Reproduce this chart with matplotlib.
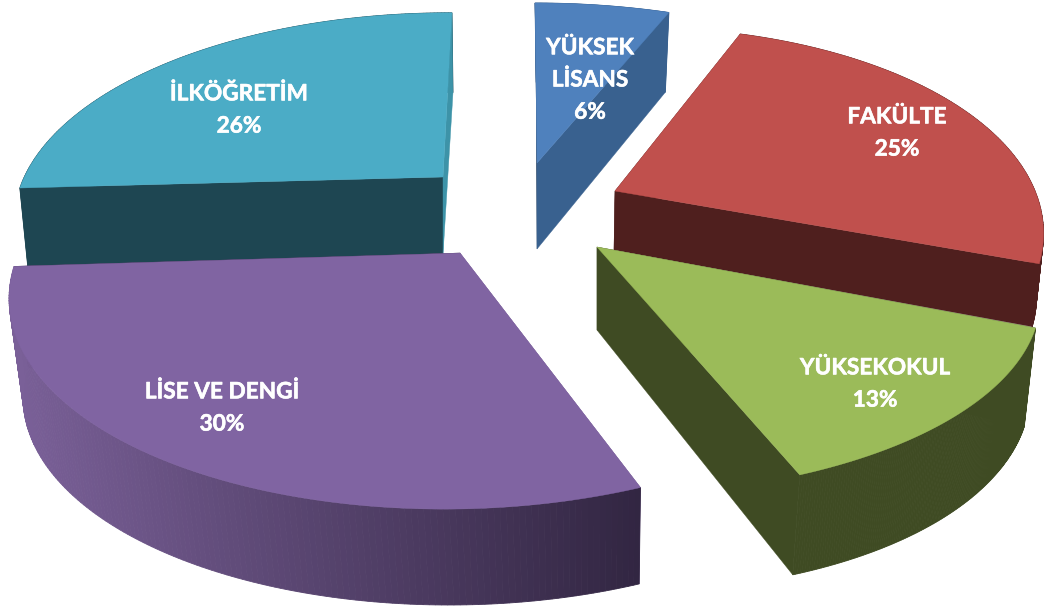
import numpy as np
import matplotlib
matplotlib.use("Agg")
import matplotlib.pyplot as plt
from matplotlib.patches import Polygon
import matplotlib.patheffects as pe

# --- data ---
labels = ["YÜKSEK\nLİSANS", "FAKÜLTE", "YÜKSEKOKUL", "LİSE VE DENGİ", "İLKÖĞRETİM"]
values = [6, 25, 13, 30, 26]

# --- style / layout (per-slice projection of the 3-D pie, in pixels) ---
# ax, ay, rx, ry, k, sx, sy
top_geom = [
    (537, 163, 431, 192, .20, -2.4, 0),
    (615, 191, 416, 203, .24, 0, -9),
    (597, 247, 431, 190, .234, 0, 4.4),
    (460, 253, 441, 210, .18, 13, 0),
    (443, 177, 418, 197, .20, 10.8, 1.5),
]
bot_geom = [
    (537, 249, 416, 200, .20, -1, 0),
    (614, 250, 410, 190, .24, 0, 0),
    (597, 330, 422, 203, .222, 0, 15),
    (460, 355, 428, 205, .18, 9, 0),
    (443, 255, 410, 195, .20, 12, 0),
]
top_colors = ["#4F81BD", "#C0504D", "#9BBB59", "#8064A2", "#4BACC6"]
side_colors = ["#39618F", "#4F1F1E", "#3F4B23", None, "#1E4652"]
start_face = ["#244061", "#4F1F1E", "#3F4B23", "#7A6098", "#1E4652"]
end_face = ["#39618F", "#4F1F1E", "#3F4B23", "#322642", "#3D93A8"]
end_face_last = [False, False, False, False, True]
label_pos = [(590, 80), (897, 133), (875, 384), (222, 408), (239, 110)]
draw_order = [0, 1, 4, 2, 3]

plt.rcParams["font.family"] = ["Lato", "DejaVu Sans"]
fig = plt.figure(figsize=(10.45, 6.12), dpi=100, facecolor="white")
ax = fig.add_axes([0, 0, 1, 1])
ax.set_xlim(0, 1045)
ax.set_ylim(612, 0)
ax.axis("off")


def proj(g, theta):
    a_x, a_y, rx, ry, k, sx, sy = g
    s, c = np.sin(theta), np.cos(theta)
    w = 1 + k * c
    return a_x + (rx * s + sx * c) / w, a_y + (-ry * c + sy * s) / w


cum = np.cumsum([0] + values) / sum(values) * 2 * np.pi
lise_left = np.array([122, 96, 152]) / 255
lise_right = np.array([50, 38, 66]) / 255

for i in draw_order:
    th = np.linspace(cum[i], cum[i + 1], 160)
    tx, ty = proj(top_geom[i], th)
    bx, by = proj(bot_geom[i], th)
    ta = top_geom[i][:2]
    ba = bot_geom[i][:2]
    end_poly = [ta, (tx[-1], ty[-1]), (bx[-1], by[-1]), ba]
    # cut faces
    ax.add_patch(Polygon([ta, (tx[0], ty[0]), (bx[0], by[0]), ba], closed=True,
                         facecolor=start_face[i], edgecolor=start_face[i], lw=0.3))
    if not end_face_last[i]:
        ax.add_patch(Polygon(end_poly, closed=True,
                             facecolor=end_face[i], edgecolor=end_face[i], lw=0.3))
    # outer wall, swept as quads
    for j in range(len(th) - 1):
        if side_colors[i] is None:
            f = np.clip((tx[j] - 10) / 630, 0, 1)
            col = lise_left * (1 - f) + lise_right * f
        else:
            col = side_colors[i]
        ax.add_patch(Polygon([(tx[j], ty[j]), (tx[j + 1], ty[j + 1]),
                              (bx[j + 1], by[j + 1]), (bx[j], by[j])],
                             closed=True, facecolor=col, edgecolor=col, lw=0.6))
    if end_face_last[i]:
        ax.add_patch(Polygon(end_poly, closed=True,
                             facecolor=end_face[i], edgecolor=end_face[i], lw=0.3))
    # top face
    pts = np.column_stack([np.r_[ta[0], tx], np.r_[ta[1], ty]])
    ax.add_patch(Polygon(pts, closed=True, facecolor=top_colors[i],
                         edgecolor=top_colors[i], lw=0.3))

for name, v, (x, y) in zip(labels, values, label_pos):
    ax.text(x, y, f"{name}\n{v}%", color="white", fontsize=16.3, fontweight="bold",
            ha="center", va="center", linespacing=1.66,
            path_effects=[pe.withStroke(linewidth=0.4, foreground="white")])

fig.savefig("out.png", dpi=100, facecolor="white")
